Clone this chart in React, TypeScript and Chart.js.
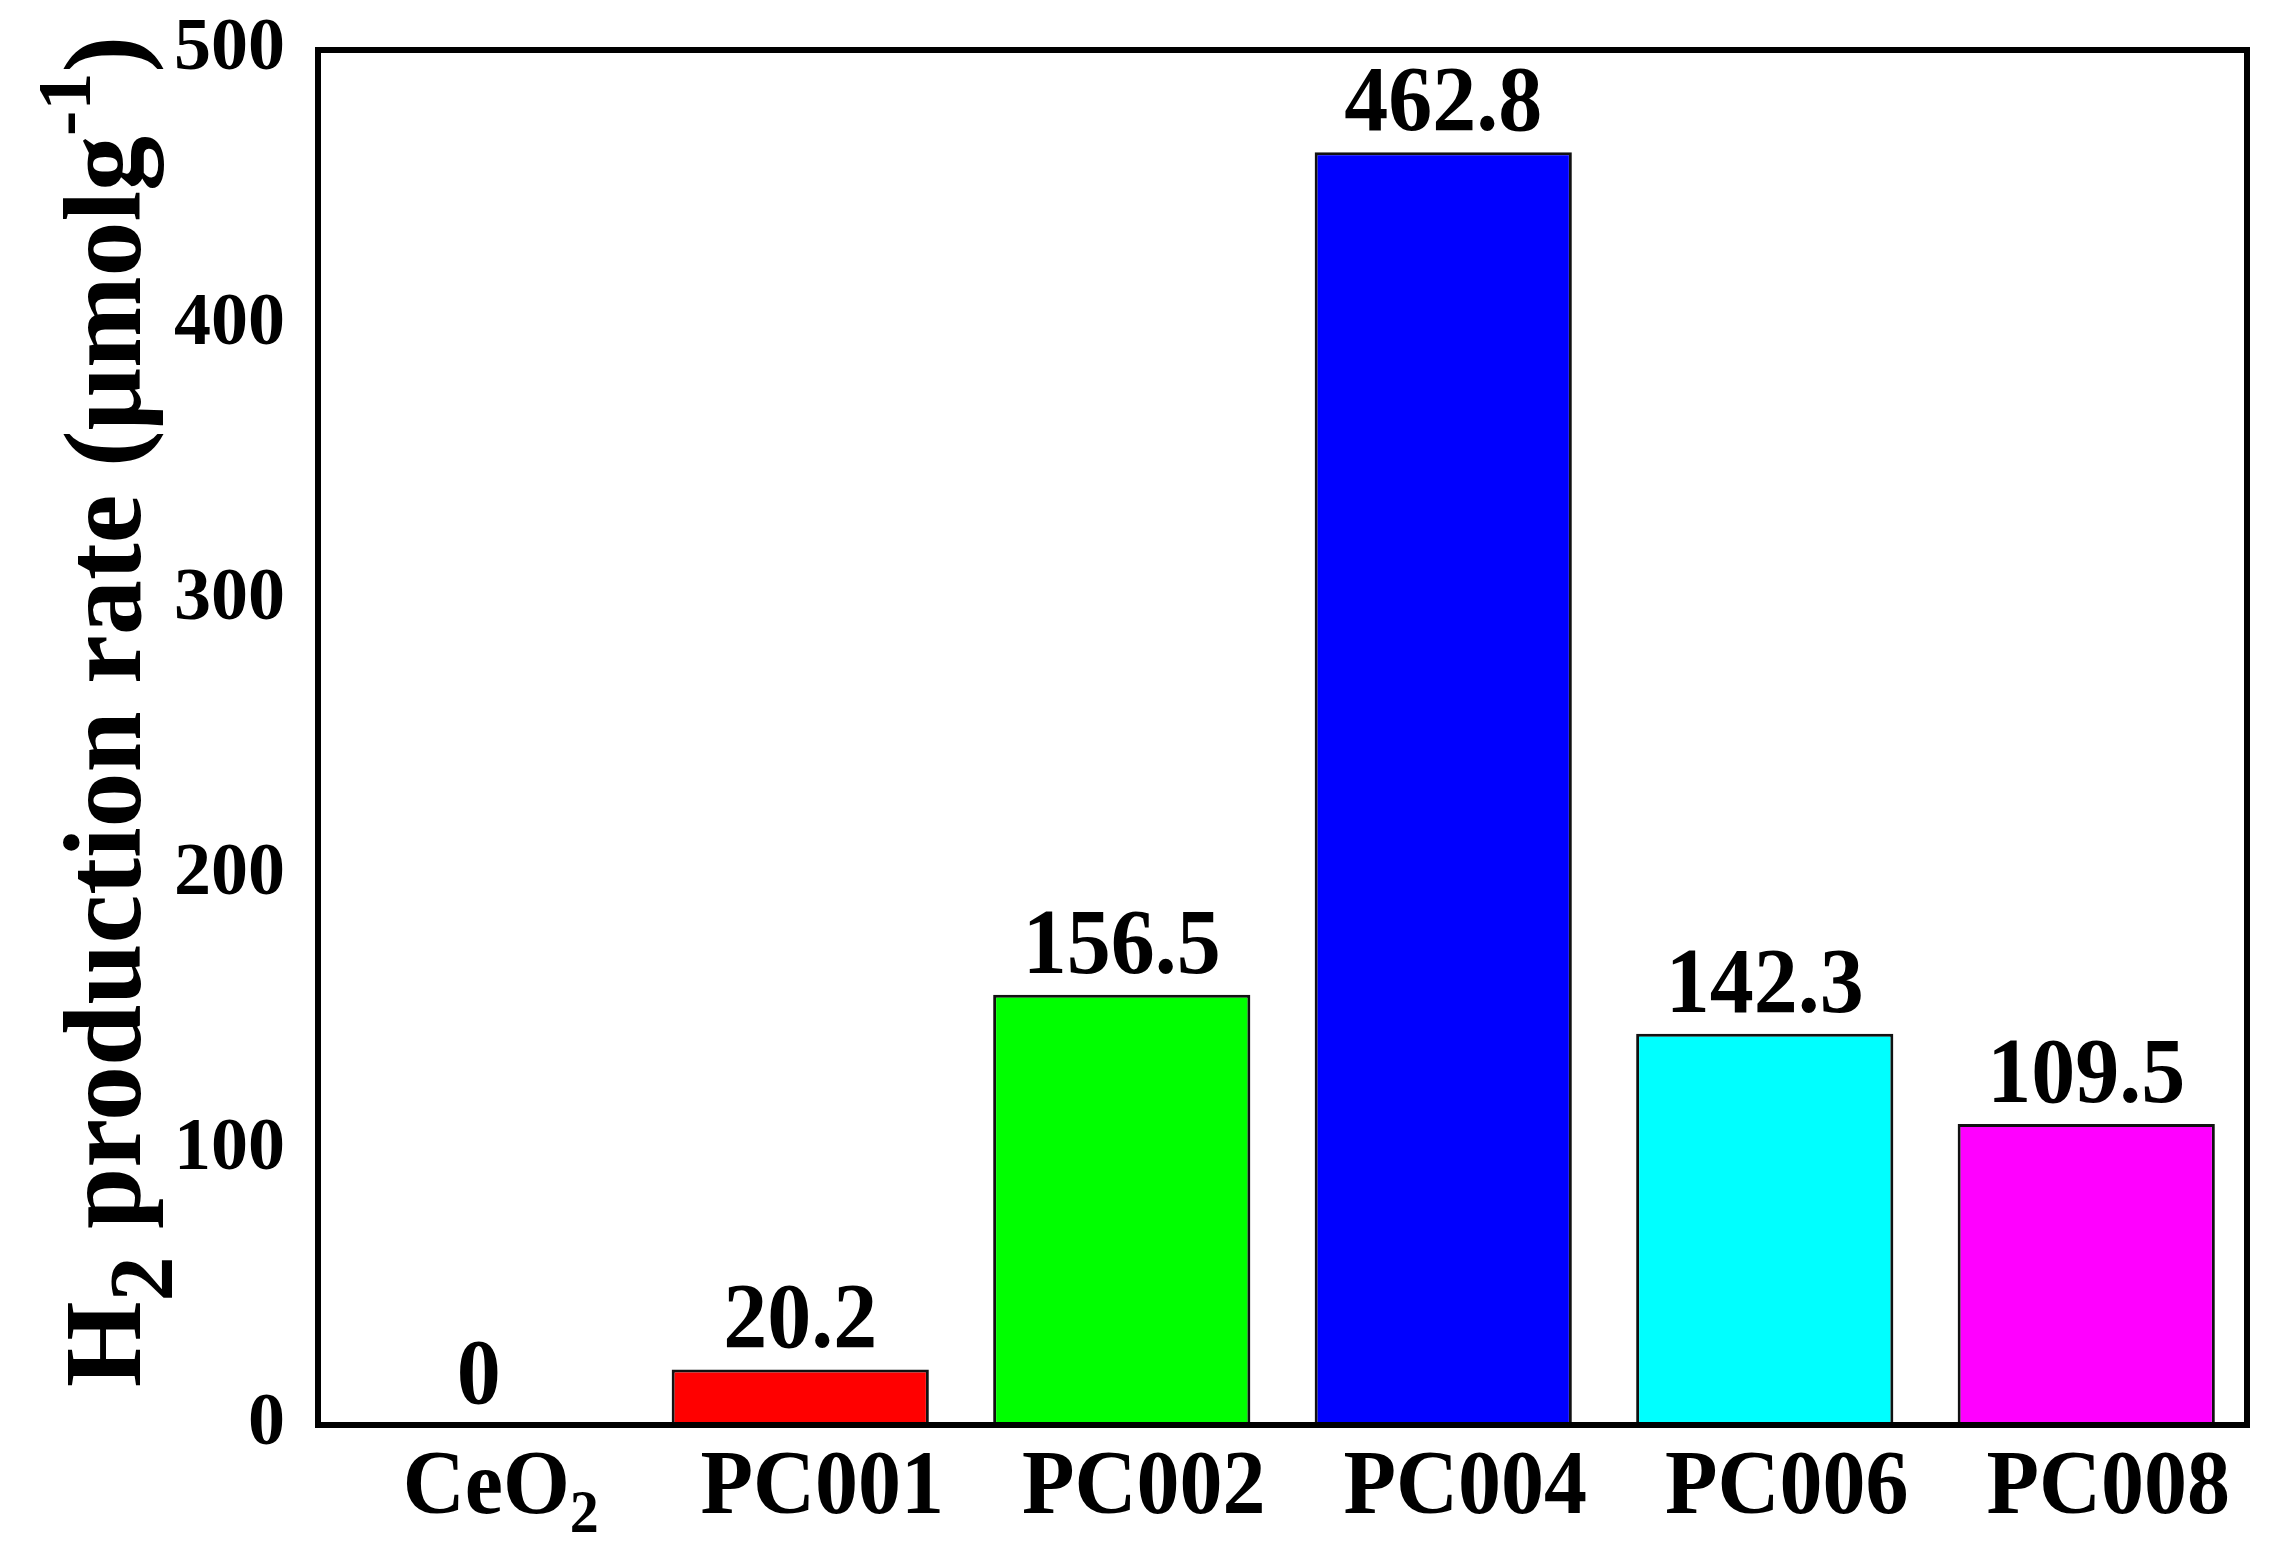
import React, { useEffect, useRef } from "react";
import { Chart, registerables } from "chart.js";

Chart.register(...registerables);

// ---- data ----
const categories = ["CeO2", "PC001", "PC002", "PC004", "PC006", "PC008"];
const categoryMain = ["CeO", "PC001", "PC002", "PC004", "PC006", "PC008"];
const categorySub = ["2", "", "", "", "", ""];
const rates = [0, 20.2, 156.5, 462.8, 142.3, 109.5];
const rateLabels = ["0", "20.2", "156.5", "462.8", "142.3", "109.5"];
const barColors = ["#808080", "#ff0000", "#00ff00", "#0000ff", "#00ffff", "#ff00ff"];
const yMin = 0;
const yMax = 500;
const yStep = 100;
const yTitleParts = [
  { text: "H", mode: "n" },
  { text: "2", mode: "sub" },
  { text: " production rate (\u03bcmolg", mode: "n" },
  { text: "-1", mode: "sup" },
  { text: ")", mode: "n" },
];

const FONT = '"Liberation Serif", "Times New Roman", Times, serif';

const valueLabelPlugin = {
  id: "valueLabels",
  afterDatasetsDraw(chart: any) {
    const ctx = chart.ctx;
    const meta = chart.getDatasetMeta(0);
    ctx.save();
    ctx.font = `bold 88px ${FONT}`;
    ctx.fillStyle = "#000";
    ctx.textAlign = "center";
    ctx.textBaseline = "alphabetic";
    meta.data.forEach((bar: any, i: number) => {
      ctx.save();
      ctx.translate(bar.x, bar.y - 22);
      ctx.scale(1, 1.05);
      ctx.fillText(rateLabels[i], 0, 0);
      ctx.restore();
    });
    ctx.restore();
  },
};

const framePlugin = {
  id: "frame",
  afterDraw(chart: any) {
    const { ctx, chartArea } = chart;
    ctx.save();
    ctx.strokeStyle = "#000";
    ctx.lineWidth = 6;
    ctx.lineJoin = "miter";
    ctx.strokeRect(
      chartArea.left,
      chartArea.top,
      chartArea.right - chartArea.left,
      chartArea.bottom - chartArea.top
    );
    ctx.restore();
  },
};

const xLabelPlugin = {
  id: "xLabels",
  afterDraw(chart: any) {
    const { ctx, chartArea } = chart;
    const xScale = chart.scales.x;
    const baseline = chartArea.bottom + 88;
    ctx.save();
    ctx.fillStyle = "#000";
    ctx.textBaseline = "alphabetic";
    ctx.textAlign = "left";
    categoryMain.forEach((main, i) => {
      const sub = categorySub[i];
      const cx = xScale.getPixelForValue(i) + 22;
      ctx.font = `bold 86px ${FONT}`;
      const w1 = ctx.measureText(main).width;
      ctx.font = `bold 58px ${FONT}`;
      const w2 = sub ? ctx.measureText(sub).width : 0;
      const start = cx - (w1 + w2) / 2;
      ctx.save();
      ctx.translate(start, baseline);
      ctx.scale(1, 1.06);
      ctx.font = `bold 86px ${FONT}`;
      ctx.fillText(main, 0, 0);
      if (sub) {
        ctx.font = `bold 58px ${FONT}`;
        ctx.fillText(sub, w1, 18);
      }
      ctx.restore();
    });
    ctx.restore();
  },
};

function yTitleStyle(parts: { text: string; mode: string }[]) {
  return parts.map((p) => {
    if (p.mode === "sub") return { text: p.text, size: 90, dy: 32 };
    if (p.mode === "sup") return { text: p.text, size: 76, dy: -50 };
    return { text: p.text, size: 110, dy: 0 };
  });
}

const yTitlePlugin = {
  id: "yTitle",
  afterDraw(chart: any) {
    const { ctx, chartArea } = chart;
    const baseX = chartArea.left - 178;
    const startY = chartArea.bottom - 38;
    ctx.save();
    ctx.translate(baseX, startY);
    ctx.rotate(-Math.PI / 2);
    ctx.fillStyle = "#000";
    ctx.textAlign = "left";
    ctx.textBaseline = "alphabetic";
    let x = 0;
    yTitleStyle(yTitleParts).forEach((p) => {
      ctx.font = `bold ${p.size}px ${FONT}`;
      ctx.fillText(p.text, x, p.dy);
      x += ctx.measureText(p.text).width;
    });
    ctx.restore();
  },
};

export default function App() {
  const canvasRef = useRef<HTMLCanvasElement | null>(null);

  useEffect(() => {
    document.body.style.margin = "0";
    const canvas = canvasRef.current;
    if (!canvas) return;
    const chart = new Chart(canvas, {
      type: "bar",
      data: {
        labels: categories,
        datasets: [
          {
            data: rates,
            backgroundColor: barColors,
            borderColor: "#111",
            borderWidth: 3,
            barPercentage: 0.8,
            categoryPercentage: 1.0,
          },
        ],
      },
      options: {
        animation: false,
        responsive: false,
        devicePixelRatio: 1,
        layout: { padding: { top: 50, right: 23, left: 0, bottom: 0 } },
        plugins: {
          legend: { display: false },
          tooltip: { enabled: false },
          title: { display: false },
        },
        scales: {
          x: {
            type: "category",
            grid: { display: false, drawTicks: false },
            border: { display: false },
            ticks: { display: false },
            afterFit: (s: any) => {
              s.height = 129;
              s.paddingLeft = 0;
              s.paddingRight = 0;
            },
          },
          y: {
            min: yMin,
            max: yMax,
            ticks: {
              stepSize: yStep,
              padding: 33,
              color: "#000",
              font: { family: FONT, size: 74, weight: "bold" },
            },
            grid: { display: false, drawTicks: false },
            border: { display: false },
            afterFit: (s: any) => {
              s.width = 318;
              s.paddingTop = 0;
              s.paddingBottom = 0;
            },
          },
        },
      } as any,
      plugins: [valueLabelPlugin, framePlugin, xLabelPlugin, yTitlePlugin],
    });
    return () => chart.destroy();
  }, []);

  return (
    <canvas
      ref={canvasRef}
      width={2270}
      height={1554}
      style={{ display: "block", width: 2270, height: 1554 }}
    />
  );
}
